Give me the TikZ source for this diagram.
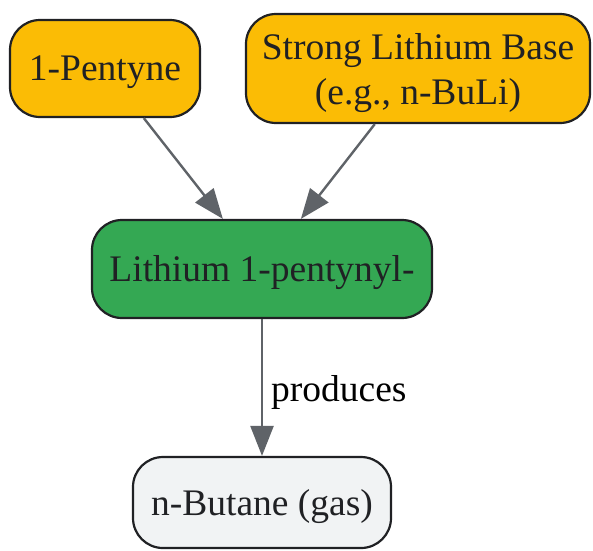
\documentclass[tikz,border=0pt]{standalone}
\usepackage{fontspec}
\setmainfont{Liberation Serif}
\usetikzlibrary{arrows.meta}
\definecolor{orangefill}{HTML}{FBBC05}
\definecolor{greenfill}{HTML}{34A853}
\definecolor{grayfill}{HTML}{F1F3F4}
\definecolor{edgegray}{HTML}{5F6368}
\definecolor{darkline}{HTML}{202124}
\newcommand{\lowtext}[1]{\raisebox{-4pt}[\height][\depth]{#1}}
\tikzset{
  box/.style={draw=darkline, line width=2.2pt, rounded corners=30pt, inner sep=0pt,
    align=center, text=darkline, font=\fontsize{37.5}{45}\selectfont},
  conn/.style={draw=edgegray, line width=2.4pt, -{Triangle[length=30pt,width=23pt]}},
  lbl/.style={text=black, font=\fontsize{37.5}{45}\selectfont, inner sep=0pt}
}
\begin{document}
\begin{tikzpicture}[x=1pt,y=-1pt]
\useasboundingbox (0,0) rectangle (593,550);
\node[box, fill=orangefill, minimum width=190pt, minimum height=97pt] (pent) at (105,68.5) {\lowtext{1-Pentyne}};
\node[box, fill=orangefill, minimum width=344pt, minimum height=109pt] (base) at (418,68.5) {\lowtext{\begin{tabular}{@{}c@{}}Strong Lithium Base\\(e.g., n-BuLi)\end{tabular}}};
\node[box, fill=greenfill, minimum width=340pt, minimum height=98pt] (li) at (262,269) {\lowtext{Lithium 1-pentynyl-}};
\node[box, fill=grayfill, minimum width=258pt, minimum height=91pt] (but) at (262,502.5) {\lowtext{n-Butane (gas)}};
\draw[conn] (pent) -- (li);
\draw[conn] (base) -- (li);
\draw[conn] (li) -- node[lbl, anchor=west, xshift=8pt, yshift=-5pt] (prod) {produces} (but);
\end{tikzpicture}
\end{document}
